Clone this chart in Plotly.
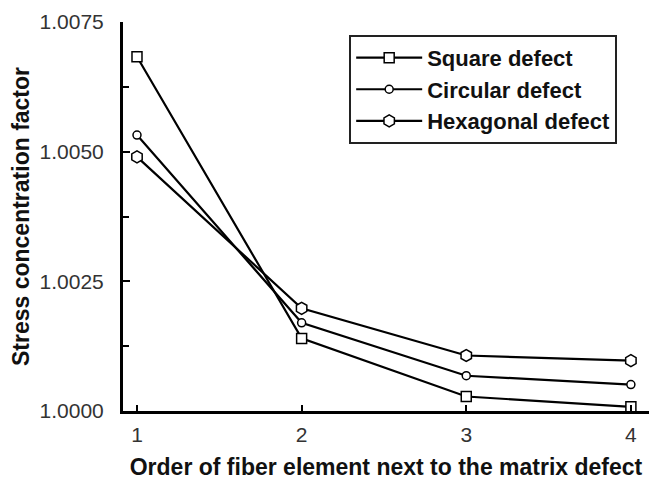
import plotly.graph_objects as go

# Fiber element order next to the matrix defect
order = [1, 2, 3, 4]

# Stress concentration factor for each defect shape
square_scf = [1.00683, 1.00140, 1.00028, 1.00008]
circular_scf = [1.00532, 1.00170, 1.00068, 1.00051]
hexagonal_scf = [1.00490, 1.00198, 1.00107, 1.00097]

y_ticks = [1.0000, 1.0025, 1.0050, 1.0075]
y_tick_text = ["1.0000", "1.0025", "1.0050", "1.0075"]
x_ticks = [1, 2, 3, 4]

FONT = "Liberation Sans, Arial, sans-serif"

series = [
    ("Square defect", square_scf, "square", 10),
    ("Circular defect", circular_scf, "circle", 8),
    ("Hexagonal defect", hexagonal_scf, "hexagon", 12),
]

fig = go.Figure()
for name, vals, sym, size in series:
    fig.add_trace(go.Scatter(
        x=order, y=vals, name=name, mode="lines+markers",
        line=dict(color="black", width=2.2),
        marker=dict(symbol=sym, size=size, color="white",
                    line=dict(color="black", width=1.5)),
    ))

fig.update_layout(
    width=649, height=483,
    margin=dict(l=123, r=0, t=22, b=72),
    plot_bgcolor="white", paper_bgcolor="white",
    font=dict(family=FONT, color="#222"),
    legend=dict(
        x=0.43, y=0.967, xanchor="left", yanchor="top",
        bgcolor="white", bordercolor="#222", borderwidth=2,
        font=dict(size=22, family=FONT, weight="bold", color="#111"),
        itemwidth=66, tracegroupgap=0,
    ),
    showlegend=True,
)

fig.update_xaxes(
    range=[0.915, 4.11], tickvals=x_ticks,
    showline=True, linecolor="black", linewidth=3,
    ticks="inside", ticklen=6, tickwidth=2, tickcolor="black",
    showgrid=False, zeroline=False,
    tickfont=dict(size=21, color="#333"), ticklabelstandoff=3,
    title=dict(text="Order of fiber element next to the matrix defect",
               font=dict(size=23, weight="bold", color="#111"), standoff=14),
)

fig.update_yaxes(
    range=[1.0000, 1.0075], tickvals=y_ticks, ticktext=y_tick_text,
    showline=True, linecolor="black", linewidth=3,
    ticks="inside", ticklen=7, tickwidth=2, tickcolor="black",
    minor=dict(ticks="inside", ticklen=6, tickwidth=2, tickcolor="black", dtick=0.00125),
    showgrid=False, zeroline=False,
    tickfont=dict(size=21, color="#333"), ticklabelstandoff=12,
    title=dict(text="Stress concentration factor",
               font=dict(size=23, weight="bold", color="#111"), standoff=4),
)

fig.write_html("out.html")
